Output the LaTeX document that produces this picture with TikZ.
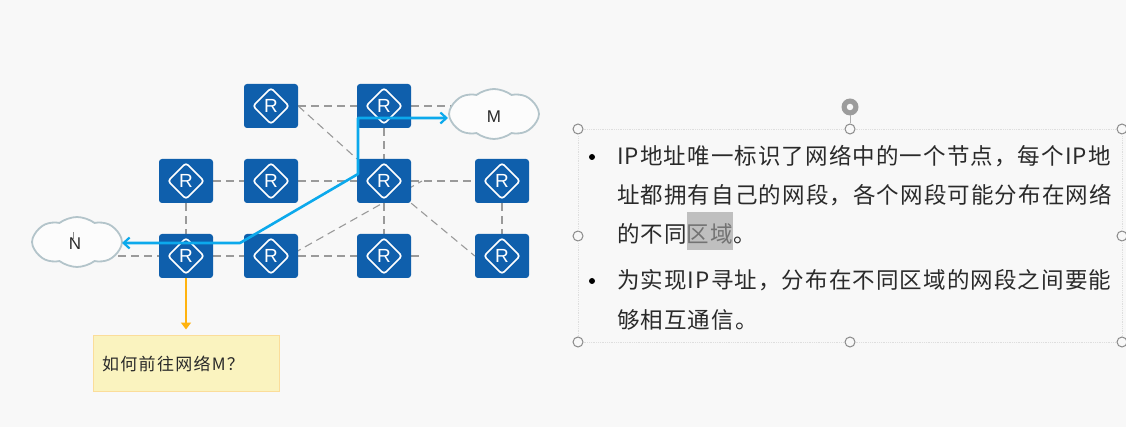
\documentclass[tikz,border=0pt]{standalone}
\usepackage{fontspec}
\setmainfont{Noto Sans CJK SC}
\newfontfamily\latinf{Liberation Sans}
\newfontfamily\bodyf[LetterSpace=4.9]{Noto Sans CJK SC}
\newfontfamily\notef[LetterSpace=7.5]{Noto Sans CJK SC}
\usetikzlibrary{shapes.symbols,arrows.meta,backgrounds}
\definecolor{bgc}{HTML}{F8F8F8}
\definecolor{routerc}{HTML}{0F5FAC}
\definecolor{dashc}{HTML}{9A9A9A}
\definecolor{bluec}{HTML}{0CA9EC}
\definecolor{orangec}{HTML}{FFB30F}
\definecolor{cloudc}{HTML}{B3C4CA}
\definecolor{notec}{HTML}{FAF3BF}
\definecolor{noteb}{HTML}{FBDD9A}
\definecolor{handlec}{HTML}{8A8A8A}
\definecolor{selc}{HTML}{DEDEDE}
\definecolor{inkc}{HTML}{2A2A2A}
\tikzset{
  router/.style={rectangle, rounded corners=3pt, fill=routerc, minimum width=54pt, minimum height=44pt, inner sep=0pt,
    text=white, font=\latinf\fontsize{19}{19}\selectfont,
    path picture={
      \draw[white, line width=1.7pt] ([yshift=18pt]path picture bounding box.center) -- ([xshift=18pt]path picture bounding box.center) -- ([yshift=-18pt]path picture bounding box.center) -- ([xshift=-18pt]path picture bounding box.center) -- cycle;
    }},
  netcloud/.style={cloud, cloud puffs=8, cloud puff arc=75, aspect=1.8, draw=cloudc, line width=1.8pt, fill=white!60!bgc,
    minimum width=90pt, minimum height=50pt, inner sep=0pt, text=inkc, font=\latinf\fontsize{17}{17}\selectfont},
  link/.style={draw=dashc, line width=1.1pt, dash pattern=on 8pt off 5pt},
  path route/.style={draw=bluec, line width=2.6pt, line join=round, {Straight Barb[length=6pt,width=11pt,line width=2.2pt]}-{Straight Barb[length=6pt,width=11pt,line width=2.2pt]}},
  askarrow/.style={draw=orangec, line width=2.6pt, shorten >=5pt, -{Triangle[length=7pt,width=10pt]}},
  note/.style={rectangle, draw=noteb, line width=1pt, fill=notec, minimum width=186pt, minimum height=56pt, inner sep=0pt},
  notetext/.style={anchor=west, inner sep=0pt, text=inkc, font=\notef\fontsize{17}{17}\selectfont},
  bodyline/.style={anchor=base west, inner sep=0pt, text=inkc, font=\bodyf\fontsize{22.5}{22.5}\selectfont},
  bulletdot/.style={circle, fill=black, minimum size=6pt, inner sep=0pt},
  handle/.style={circle, draw=handlec, line width=1pt, fill=bgc, minimum size=10pt, inner sep=0pt},
  selbox/.style={draw=selc, line width=0.8pt, densely dotted},
  rotouter/.style={circle, fill=handlec!85, minimum size=17pt, inner sep=0pt, outer sep=0pt},
  rotinner/.style={circle, fill=bgc, minimum size=6.5pt, inner sep=0pt, outer sep=0pt},
}
\begin{document}
\begin{tikzpicture}[x=1pt,y=-1pt]
\useasboundingbox (0,0) rectangle (1126,427);
\begin{pgfonlayer}{background}
  \fill[bgc] (0,0) rectangle (1126,427);
\end{pgfonlayer}
% routers
\node[router] (t2) at (271,106) {R};
\node[router] (t3) at (384,106) {R};
\node[router] (m1) at (186,181) {R};
\node[router] (m2) at (271,181) {R};
\node[router] (m3) at (384,181) {R};
\node[router] (m4) at (502,181) {R};
\node[router] (b1) at (186,256) {R};
\node[router] (b2) at (271,256) {R};
\node[router] (b3) at (384,256) {R};
\node[router] (b4) at (502,256) {R};
% clouds
\node[netcloud] (M) at (494,114) {};
\node[netcloud] (N) at (77,242) {};
\node[text=inkc, font=\latinf\fontsize{17}{17}\selectfont, inner sep=0pt] (Mt) at (494,117) {M};
\node[text=inkc, font=\latinf\fontsize{17}{17}\selectfont, inner sep=0pt] (Nt) at (75,244) {N};
% text cursor over the N
\coordinate (curT) at (73.5,232);
\coordinate (curB) at (73.5,239);
\draw[handlec, line width=0.7pt] (curT) -- (curB);
% free ends
\coordinate (mEnd) at (452,106);
\coordinate (nEnd) at (118,256);
\coordinate (b3End) at (422,256);
\coordinate (dStart) at (271,266);
\coordinate (dEnd) at (422,181);
\coordinate (bendA) at (240,243);
\coordinate (bendB) at (358,174);
\coordinate (bendC) at (358,118);
\begin{pgfonlayer}{background}
  \draw[link] (t2) -- (t3);
  \draw[link] (t3) -- (mEnd);
  \draw[link] (t2.east) -- (m3.north west);
  \draw[link] (t3) -- (m3);
  \draw[link] (m1) -- (m2);
  \draw[link] (m2) -- (m3);
  \draw[link] (m3) -- (m4);
  \draw[link] (m1) -- (b1);
  \draw[link] (nEnd) -- (b1);
  \draw[link] (b1) -- (b2);
  \draw[link] (b2) -- (b3);
  \draw[link] (b3) -- (b3End);
  \draw[link] (dStart) -- (dEnd);
  \draw[link] (m3) -- (b3);
  \draw[link] (m3.south east) -- (b4.west);
  \draw[link] (m4) -- (b4);
\end{pgfonlayer}
% route
\coordinate (routeL) at (122,243);
\coordinate (routeR) at (448,118);
\draw[path route] (routeL) -- (bendA) -- (bendB) -- (bendC) -- (routeR);
% question
\node[note] (q) at (186,363) {};
\node[notetext] (qt) at (102,364) {如何前往网络M？};
\draw[askarrow] (b1.south) -- (q.north);
% selection box
\node[handle] (h1) at (578,129) {};
\node[handle] (h2) at (850,129) {};
\node[handle] (h3) at (1122,129) {};
\node[handle] (h4) at (578,236) {};
\node[handle] (h5) at (1122,236) {};
\node[handle] (h6) at (578,342) {};
\node[handle] (h7) at (850,342) {};
\node[handle] (h8) at (1122,342) {};
\draw[selbox] (h1) -- (h2); \draw[selbox] (h2) -- (h3);
\draw[selbox] (h6) -- (h7); \draw[selbox] (h7) -- (h8);
\draw[selbox] (h1) -- (h4); \draw[selbox] (h4) -- (h6);
\draw[selbox] (h3) -- (h5); \draw[selbox] (h5) -- (h8);
\node[rotouter] (rot) at (850,107) {};
\node[rotinner] (roti) at (850,107) {};
\draw[draw=handlec!70, line width=0.8pt] (rot) -- (h2);
% text
\node[rectangle, fill=black!25, minimum width=46pt, minimum height=38pt, inner sep=0pt] (hl) at (710,231) {};
\node[bulletdot] (d1) at (592,157) {};
\node[bulletdot] (d2) at (592,281) {};
\node[bodyline] (l1) at (617,165) {IP地址唯一标识了网络中的一个节点，每个IP地};
\node[bodyline] (l2) at (617,204) {址都拥有自己的网段，各个网段可能分布在网络};
\node[bodyline] (l3) at (617,243) {的不同\textcolor{black!55}{区域}。};
\node[bodyline] (l4) at (617,289) {为实现IP寻址，分布在不同区域的网段之间要能};
\node[bodyline] (l5) at (617,328) {够相互通信。};
\end{tikzpicture}
\end{document}
